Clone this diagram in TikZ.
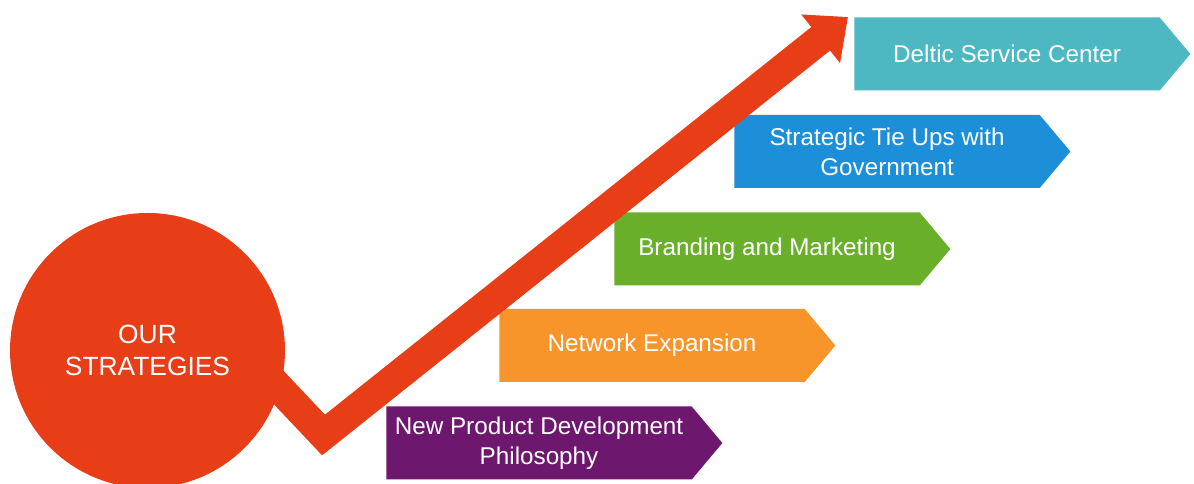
\documentclass[tikz,border=0pt]{standalone}
\usepackage{fontspec}
\setmainfont{Liberation Sans}
\usetikzlibrary{arrows.meta, shapes.symbols}

\definecolor{stratred}{HTML}{E83E17}
\definecolor{svcteal}{HTML}{4DB8C1}
\definecolor{tieblue}{HTML}{1C8FD8}
\definecolor{brandgreen}{HTML}{6AAF2A}
\definecolor{netorange}{HTML}{F7952B}
\definecolor{npdpurple}{HTML}{6E176E}

\begin{document}
\begin{tikzpicture}[
		stratbox/.style = {signal, signal to = east, signal pointer angle = 100,
			minimum width = 6.72cm, minimum height = 1.46cm, inner sep = 0pt, anchor = west,
			text = white, align = center, font = \fontsize{13.8}{17}\selectfont}
	]
	\useasboundingbox (0,0) rectangle (23.88,9.68);

	% the circle runs off the bottom edge
	\begin{scope}
		\clip (0,0) rectangle (23.88,9.68);
		\node [circle, fill = stratred, minimum size = 5.5cm, text = white, align = center,
			font = \fontsize{15}{18.3}\selectfont] (strat) at (2.95,2.67) {OUR\\STRATEGIES};
	\end{scope}

	\begin{scope}
		\node [stratbox, fill = svcteal] (svc) at (17.08,8.60) {Deltic Service Center};
		\node [stratbox, fill = tieblue] (tieup) at (14.68,6.65) {Strategic Tie Ups with\\Government};
		\node [stratbox, fill = brandgreen] (brand) at (12.28,4.70) {Branding and Marketing};
		\node [stratbox, fill = netorange] (network) at (9.98,2.77) {Network Expansion};
		\node [stratbox, fill = npdpurple] (npd) at (7.72,0.82) {New Product Development\\Philosophy};
	\end{scope}

	\begin{scope}
		\coordinate (start) at (4.96,2.58);
		\coordinate (bend) at (6.47,0.98);
		\coordinate (tip) at (16.96,9.34);
		\draw [stratred, line width = 0.6cm, -{Triangle[length = 0.7cm, width = 1.2cm]}]
			(start) -- (bend) -- (tip);
	\end{scope}
\end{tikzpicture}
\end{document}
